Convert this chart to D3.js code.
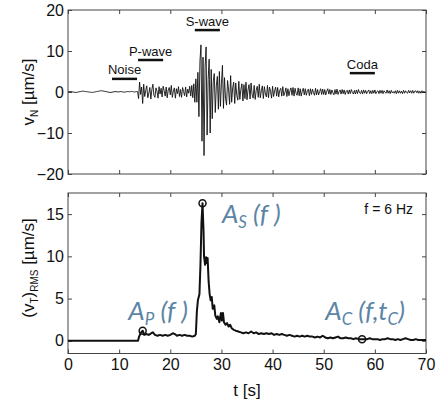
<!DOCTYPE html>
<html>
<head>
<meta charset="utf-8">
<script src="https://cdn.jsdelivr.net/npm/d3@7/dist/d3.min.js"></script>
<style>
  body { margin: 0; background: #fff; }
  text { font-family: Arial, "Liberation Sans", sans-serif; fill: #111; }
</style>
</head>
<body>
<div id="chart"></div>
<script>
// north component velocity, sampled every 0.2 s from t = 0
var dt = 0.2;
var vN = [
  0, 0.05, 0.1, 0.1, 0.05, 0, -0.05, -0.1, -0.1, -0.05, 0, 0.05, 0.1, 0.15, 0.2, 0.2, 0.15, 0.1, 0.1, 0.05, 0, 0, -0.05, -0.1, -0.1,
  -0.05, 0, 0.05, 0.1, 0.15, 0.2, 0.25, 0.3, 0.3, 0.25, 0.2, 0.15, 0.1, 0.05, 0, -0.05, -0.1, -0.1, -0.05, 0, 0.05, 0.1, 0.1, 0.05, 0,
  0.05, 0.1, 0.1, 0.05, 0, -0.05, 0, 0.05, 0.1, 0.1, 0.05, 0.1, 0.15, 0.1, 0.05, 0, 0.05, 0.1, 0.1, -1.6, 2.4, -0.6, 1.2, -2.8, 1.9,
  -1.1, 0.4, 1.5, -1.4, -0.3, 1.1, -1.7, 0.6, 1.9, -0.8, -1.3, 1.0, 0.2, -1.5, 1.3, -0.5, 0.9, -1.2, 1.4, 0.3, -1.0, 1.2, -1.4, 0.5, 1.1,
  -0.7, 1.6, -1.3, 0.2, 1.0, -1.5, 0.8, -0.4, 1.3, -1.1, 0.6, -1.3, 1.1, 0.1, -0.9, 1.2, -1.2, 0.7, -0.3, 1.4, -1.0, 1.6, -1.4, 2.0, -2.5,
  3.2, -2.5, 4.8, -6.0, 7.5, 11.5, -12.0, 8.5, -15.5, 6.0, 11.0, -10.5, 3.0, 8.0, -10.0, 5.5, -6.5, 2.5, 4.5, -5.0, 1.5, 3.8, -4.2, 5.0, -3.5,
  2.0, 6.5, -4.0, 3.5, -1.5, -3.2, 2.8, 0.5, -3.0, 4.0, -2.5, 1.0, 2.4, -2.8, 2.2, -0.8, -2.0, 2.6, -1.8, 0.6, 2.0, -2.2, 1.8, -1.6, 2.4,
  -1.9, 0.5, 1.8, -1.7, 2.2, -0.6, -1.5, 1.6, -1.8, 0.4, 1.4, -1.3, 1.9, -1.4, 0.3, 1.5, -1.6, 1.3, -0.5, -1.2, 1.6, -1.4, 1.2, 0.2, -1.5,
  1.4, -1.1, 0.3, 1.2, -1.0, 1.1, -1.2, 0.4, 0.9, -1.0, 1.3, -0.9, -0.2, 1.0, -1.1, 0.8, -0.9, 0.3, 1.0, -0.8, 1.1, -1.0, 0.9, -0.3, -0.8,
  1.0, -0.9, 0.8, -1.0, 0.2, 0.9, -0.7, 0.8, -0.8, 0.3, 0.7, -0.9, 0.8, -0.6, 0.7, -0.2, -0.8, 0.9, -0.7, 0.6, -0.7, 0.1, 0.8, -0.6, 0.7,
  -0.6, 0.6, -0.7, 0.2, 0.8, -0.5, 0.6, -0.6, 0.5, -0.2, -0.7, 0.6, -0.5, 0.7, -0.6, 0.1, 0.5, -0.5, 0.6, -0.4, 0.5, -0.6, 0.2, 0.4, -0.5,
  0.5, -0.4, 0.6, -0.1, -0.5, 0.4, -0.5, 0.5, -0.4, 0.6, -0.2, -0.4, 0.4, -0.5, 0.5, -0.3, 0.4, -0.4, 0.1, 0.5, -0.4, 0.3, -0.4, 0.4, -0.3,
  0.5, -0.4, 0.1, 0.3, -0.4, 0.4, -0.3, 0.4, -0.4, 0.3, -0.1, -0.3, 0.5, -0.3, 0.3, -0.4, 0.4, -0.2, 0.1, -0.3, 0.3, -0.4, 0.4, -0.3, 0.3,
  -0.3, 0.2, -0.4, 0.4, -0.3, 0.3, -0.1, -0.3, 0.4, -0.2, 0.3, -0.3, 0.4, -0.3, 0.2, 0.3, -0.2, 0.3, -0.3, 0.2, -0.3, 0.3, -0.2, 0.2, -0.2,
  0.1
];

// RMS envelope of transverse component at 6 Hz
var rmsT = [0, 13.7, 13.9, 14.2, 14.6, 14.9, 15.3, 15.8, 16.3, 16.6, 17.0, 17.5, 18.0, 18.5, 19.0, 19.5, 20.0,
  20.5, 20.9, 21.3, 21.8, 22.3, 22.8, 23.3, 23.8, 24.3, 24.8, 25.0, 25.2, 25.4, 25.7, 25.9, 26.1, 26.3, 26.5,
  26.6, 26.8, 27.0, 27.1, 27.3, 27.5, 27.7, 27.9, 28.1, 28.3, 28.6, 28.8, 29.1, 29.3, 29.6, 29.9, 30.1, 30.3,
  30.5, 30.8, 31.1, 31.4, 31.7, 32.0, 32.4, 32.8, 33.3, 33.8, 34.3, 34.8, 35.3, 35.8, 36.3, 36.8, 37.3, 37.8,
  38.3, 38.8, 39.3, 39.8, 40.3, 40.8, 41.3, 41.8, 42.3, 42.8, 43.3, 43.8, 44.3, 44.8, 45.3, 45.8, 46.3, 46.8,
  47.3, 47.8, 48.3, 48.8, 49.3, 49.8, 50.3, 50.8, 51.3, 51.8, 52.3, 52.8, 53.3, 53.8, 54.3, 54.8, 55.3, 55.8,
  56.3, 56.8, 57.5, 58.0, 58.5, 59.0, 59.5, 60.0, 60.5, 61.0, 61.5, 62.0, 62.5, 63.0, 63.5, 64.0, 64.5, 65.0,
  65.5, 66.0, 66.5, 67.0, 67.5, 68.0, 68.5, 69.0, 69.5, 70];
var rmsV = [0, 0, 0.5, 0.9, 1.2, 0.7, 0.8, 0.7, 0.9, 1.0, 0.7, 0.6, 0.7, 0.6, 0.7, 0.6, 0.7,
  0.9, 0.8, 0.6, 0.7, 0.6, 0.7, 0.6, 0.6, 0.5, 0.6, 0.8, 3.5, 4.8, 5.5, 9, 14, 16.3, 13,
  10, 9.0, 9.9, 9.2, 9.8, 7.0, 5.5, 4.8, 5.2, 3.8, 4.2, 3.0, 2.6, 2.9, 2.2, 3.3, 2.4, 3.3,
  2.2, 1.9, 2.1, 1.7, 1.9, 1.5, 1.3, 1.2, 1.1, 1.0, 0.9, 1.0, 0.9, 1.1, 0.9, 1.0, 0.8, 0.9,
  0.8, 0.9, 0.8, 0.9, 0.7, 0.8, 0.7, 0.8, 0.7, 0.6, 0.7, 0.6, 0.5, 0.6, 0.5, 0.6, 0.5, 0.6,
  0.5, 0.5, 0.4, 0.5, 0.4, 0.6, 0.4, 0.3, 0.4, 0.3, 0.4, 0.5, 0.3, 0.3, 0.4, 0.3, 0.3, 0.2,
  0.3, 0.2, 0.2, 0.2, 0.2, 0.3, 0.2, 0.2, 0.2, 0.1, 0.2, 0.2, 0.3, 0.2, 0.2, 0.1, 0.2, 0.1,
  0.2, 0.3, 0.2, 0.1, 0.1, 0.2, 0.1, 0.1, 0.1, 0.1];

var markT = [14.6, 26.3, 57.5];
var markV = [1.2, 16.3, 0.2];

var phases = ['Noise', 'P-wave', 'S-wave', 'Coda'];
var phaseStart = [8.6, 13.7, 24.8, 55.1];
var phaseEnd = [13.5, 18.6, 29.7, 60.0];
var phaseLevel = [3.2, 7.8, 15.1, 4.6];

var tTicks = [0, 10, 20, 30, 40, 50, 60, 70];
var vTicks = [-20, -10, 0, 10, 20];
var rTicks = [0, 5, 10, 15];

var W = 446, H = 402;
var left = 68, right = 426;

var svg = d3.select('#chart').append('svg')
  .attr('width', W)
  .attr('height', H);

var x = d3.scaleLinear().domain([0, 70]).range([left, right]);
var y1 = d3.scaleLinear().domain([-20, 20]).range([174, 10]);
var y2 = d3.scaleLinear().domain([-1.5, 17.5]).range([353.5, 193]);

function frame(y, ticks, showX) {
  var g = svg.append('g');
  g.append('g').attr('transform', 'translate(0,' + y.range()[0] + ')')
    .call(d3.axisBottom(x).tickValues(tTicks).tickSize(-4).tickPadding(5)
      .tickFormat(showX ? d3.format('d') : ''));
  g.append('g').attr('transform', 'translate(0,' + y.range()[1] + ')')
    .call(d3.axisTop(x).tickValues(tTicks).tickSize(-4).tickFormat(''));
  g.append('g').attr('transform', 'translate(' + left + ',0)')
    .call(d3.axisLeft(y).tickValues(ticks).tickSize(-4).tickPadding(4));
  g.append('g').attr('transform', 'translate(' + right + ',0)')
    .call(d3.axisRight(y).tickValues(ticks).tickSize(-4).tickFormat(''));
  g.selectAll('.domain').remove();
  g.selectAll('.tick line').attr('stroke', '#444');
  g.selectAll('.tick text').style('font-size', '16px').attr('fill', '#111');
  g.append('rect')
    .attr('x', left).attr('y', y.range()[1])
    .attr('width', right - left).attr('height', y.range()[0] - y.range()[1])
    .attr('fill', 'none').attr('stroke', '#444').attr('stroke-width', 1);
  return g;
}

frame(y1, vTicks, false);
frame(y2, rTicks, true);

// seismogram
var line1 = d3.line()
  .x(function(d, i) { return x(i * dt); })
  .y(function(d) { return y1(d); });

svg.append('path')
  .datum(vN)
  .attr('d', line1)
  .attr('fill', 'none')
  .attr('stroke', '#111')
  .attr('stroke-width', 0.9);

// phase windows
phases.forEach(function(p, i) {
  svg.append('line')
    .attr('x1', x(phaseStart[i])).attr('x2', x(phaseEnd[i]))
    .attr('y1', y1(phaseLevel[i])).attr('y2', y1(phaseLevel[i]))
    .attr('stroke', '#111').attr('stroke-width', 2.5);
  svg.append('text')
    .attr('x', x((phaseStart[i] + phaseEnd[i]) / 2))
    .attr('y', y1(phaseLevel[i]) - 4.5)
    .attr('text-anchor', 'middle')
    .style('font-size', '13px')
    .text(p);
});

// rms envelope
var line2 = d3.line()
  .x(function(d, i) { return x(rmsT[i]); })
  .y(function(d) { return y2(d); });

svg.append('path')
  .datum(rmsV)
  .attr('d', line2)
  .attr('fill', 'none')
  .attr('stroke', '#111')
  .attr('stroke-width', 2)
  .attr('stroke-linejoin', 'round');

svg.selectAll('circle.mark')
  .data(markT)
  .enter().append('circle')
  .attr('class', 'mark')
  .attr('cx', function(d) { return x(d); })
  .attr('cy', function(d, i) { return y2(markV[i]); })
  .attr('r', 3.5)
  .attr('fill', 'none')
  .attr('stroke', '#111')
  .attr('stroke-width', 1.5);

// amplitude labels
var annColor = '#5b85a5';
var anns = [
  { t: 11.8, v: 2.45, sub: 'P', rest: ' (f )' },
  { t: 30.1, v: 14.0, sub: 'S', rest: ' (f )' },
  { t: 50.3, v: 2.45, sub: 'C', rest: ' (f,t', sub2: 'C', end: ')' }
];
anns.forEach(function(a) {
  var t = svg.append('text')
    .attr('x', x(a.t)).attr('y', y2(a.v))
    .style('font-family', 'Lato, "Open Sans", sans-serif')
    .style('font-style', 'italic')
    .style('font-size', '26px')
    .style('fill', annColor);
  t.append('tspan').text('A');
  t.append('tspan').attr('dy', 5).style('font-size', '17px').text(a.sub);
  t.append('tspan').attr('dy', -5).text(a.rest);
  if (a.sub2) {
    t.append('tspan').attr('dy', 5).style('font-size', '17px').text(a.sub2);
    t.append('tspan').attr('dy', -5).text(a.end);
  }
});

svg.append('text')
  .attr('x', 413).attr('y', 214)
  .attr('text-anchor', 'end')
  .style('font-size', '14px')
  .text('f = 6 Hz');

// axis titles
var yl1 = svg.append('text')
  .attr('transform', 'translate(34,92) rotate(-90)')
  .attr('text-anchor', 'middle')
  .style('font-size', '17px');
yl1.append('tspan').text('v');
yl1.append('tspan').attr('dy', 4).style('font-size', '10px').text('N');
yl1.append('tspan').attr('dy', -4).text(' [\u00b5m/s]');

var yl2 = svg.append('text')
  .attr('transform', 'translate(34,268) rotate(-90)')
  .attr('text-anchor', 'middle')
  .style('font-size', '17px');
yl2.append('tspan').text('(v');
yl2.append('tspan').attr('dy', 4).style('font-size', '10px').text('T');
yl2.append('tspan').attr('dy', -4).text(')');
yl2.append('tspan').attr('dy', 4).style('font-size', '10px').text('RMS');
yl2.append('tspan').attr('dy', -4).text(' [\u00b5m/s]');

svg.append('text')
  .attr('x', x(35)).attr('y', 396)
  .attr('text-anchor', 'middle')
  .style('font-size', '17px')
  .text('t [s]');
</script>
</body>
</html>
